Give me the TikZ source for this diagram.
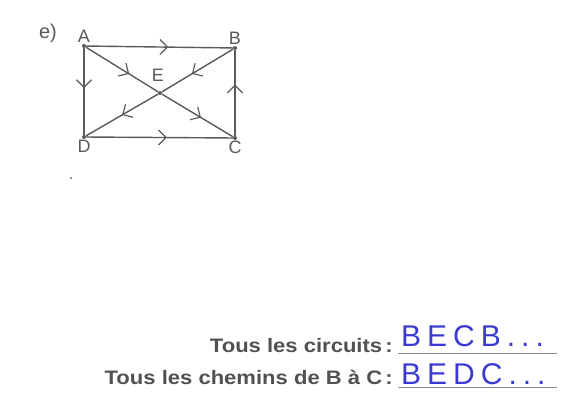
\documentclass[tikz,border=0pt]{standalone}
\usepackage{fontspec}
\setsansfont{Liberation Sans}
\newfontfamily\printfont[FakeStretch=1.13]{Liberation Sans}
\newfontfamily\handfont[LetterSpace=20]{Liberation Sans}
\usetikzlibrary{arrows.meta, decorations.markings}
\definecolor{pencil}{HTML}{5A5A5A}
\definecolor{ink}{HTML}{3A3AD2}
\tikzstyle{vertex} = [circle, fill=pencil, inner sep=0pt, minimum size=4pt]
\tikzstyle{vlabel} = [font=\sffamily\fontsize{18}{18}\selectfont, text=pencil, inner sep=1pt]
\tikzstyle{edge} = [draw=pencil, line width=1.4pt]
\tikzstyle{question} = [font=\printfont\bfseries\fontsize{19.5}{19.5}\selectfont, text=pencil!90!black, anchor=base east, inner sep=0pt]
\tikzstyle{answer} = [font=\handfont\fontsize{30}{30}\selectfont, text=ink, anchor=base west, inner sep=0pt]
\tikzstyle{blank} = [draw=pencil!70, line width=0.9pt]
\tikzset{midarrow/.style={postaction={decorate}, decoration={markings,
  mark=at position #1 with {\arrow[pencil, line width=1.2pt]{Straight Barb[length=7.5pt, width=15pt]}}}}}

\begin{document}
\begin{tikzpicture}[x=1pt, y=-1pt]
\useasboundingbox (0,0) rectangle (579,412);
% Nodes
\node (part) [vlabel, font=\sffamily\fontsize{20}{20}\selectfont] at (48,33) {e)};
\node (A) [vertex, label={[vlabel]above=1pt:A}] at (84,46) {};
\node (B) [vertex, label={[vlabel]above=1pt:B}] at (235,48) {};
\node (C) [vertex, label={[vlabel]below=2pt:C}] at (235,138) {};
\node (D) [vertex, label={[vlabel]below=2pt:D}] at (84,137) {};
\node (E) [vertex] at (160,93) {};
\node (Elabel) [vlabel, anchor=base] at (158,82) {E};
\node (speck) [circle, fill=pencil, inner sep=0pt, minimum size=2pt] at (71,178) {};

% Connections
\draw [edge, midarrow=0.56] (A) -- (B);
\draw [edge, midarrow=0.55] (D) -- (C);
\draw [edge, midarrow=0.46] (A) -- (D);
\draw [edge, midarrow=0.6] (C) -- (B);
\draw [edge, midarrow=0.6] (A) -- (E);
\draw [edge, midarrow=0.55] (E) -- (C);
\draw [edge, midarrow=0.58] (B) -- (E);
\draw [edge, midarrow=0.5] (E) -- (D);

% Questions
\node (circuits) [question] at (393,352) {Tous les circuits\,:};
\node (chemins) [question] at (393,384) {Tous les chemins de B à C\,:};
\coordinate (line1a) at (398,353);
\coordinate (line1b) at (557,353);
\coordinate (line2a) at (398,387);
\coordinate (line2b) at (557,387);
\draw [blank] (line1a) -- (line1b);
\draw [blank] (line2a) -- (line2b);
\node (ans1) [answer] at (401,346) {BECB...};
\node (ans2) [answer] at (401,384) {BEDC...};
\end{tikzpicture}
\end{document}
